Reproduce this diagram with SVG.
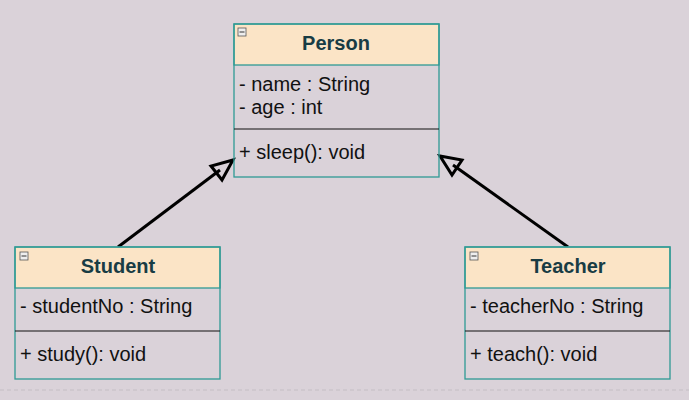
<svg xmlns="http://www.w3.org/2000/svg" width="689" height="400" viewBox="0 0 689 400">
<defs>
<style>
.box{fill:none;stroke:#2f9a94;stroke-width:1.3}
.hdr{fill:#fbe4c6;stroke:#2f9a94;stroke-width:1.3}
.div{stroke:#111;stroke-width:1.2}
.title{font-family:"Liberation Sans",Arial,sans-serif;font-size:20px;font-weight:bold;fill:#183c44;text-anchor:middle}
.t{font-family:"Liberation Sans",Arial,sans-serif;font-size:20px;fill:#111}
.icon{fill:#eee;stroke:#555;stroke-width:0.8}
.conn{stroke:#000;stroke-width:3;fill:none}
.head{fill:none;stroke:#000;stroke-width:3;stroke-linejoin:miter}
</style>
</defs>
<rect width="689" height="400" fill="#dad2d9"/>
<line x1="0" y1="390" x2="689" y2="390" stroke="#c4bec4" stroke-width="1" stroke-dasharray="4,3"/>
<g id="connectors">
<line class="conn" x1="118" y1="247" x2="220" y2="170"/>
<polygon class="head" points="233,160 211,166 222,180"/>
<line class="conn" x1="568" y1="247" x2="453" y2="165"/>
<polygon class="head" points="440,156 462,160 452,175"/>
</g>
<g id="person">
<rect class="hdr" x="234" y="24" width="205" height="41"/>
<rect class="box" x="234" y="24" width="205" height="153"/>
<line class="div" x1="234" y1="129" x2="439" y2="129"/>
<rect class="icon" x="238" y="28" width="8" height="8"/>
<line x1="239.5" y1="32" x2="244.5" y2="32" stroke="#333" stroke-width="1"/>
<text class="title" x="336" y="50">Person</text>
<text class="t" x="239" y="91">- name : String</text>
<text class="t" x="239" y="114">- age : int</text>
<text class="t" x="239" y="159">+ sleep(): void</text>
</g>
<g id="student">
<rect class="hdr" x="15" y="247" width="205" height="41"/>
<rect class="box" x="15" y="247" width="205" height="132"/>
<line class="div" x1="15" y1="331" x2="220" y2="331"/>
<rect class="icon" x="20" y="252" width="8" height="8"/>
<line x1="21.5" y1="256" x2="26.5" y2="256" stroke="#333" stroke-width="1"/>
<text class="title" x="118" y="273">Student</text>
<text class="t" x="20" y="313">- studentNo : String</text>
<text class="t" x="20" y="361">+ study(): void</text>
</g>
<g id="teacher">
<rect class="hdr" x="465" y="247" width="205" height="41"/>
<rect class="box" x="465" y="247" width="205" height="132"/>
<line class="div" x1="465" y1="331" x2="670" y2="331"/>
<rect class="icon" x="470" y="252" width="8" height="8"/>
<line x1="471.5" y1="256" x2="476.5" y2="256" stroke="#333" stroke-width="1"/>
<text class="title" x="568" y="273">Teacher</text>
<text class="t" x="470" y="313">- teacherNo : String</text>
<text class="t" x="470" y="361">+ teach(): void</text>
</g>
</svg>
